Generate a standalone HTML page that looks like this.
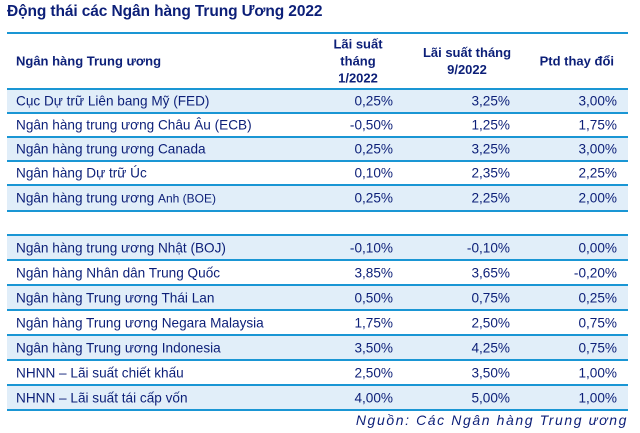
<!DOCTYPE html>
<html><head><meta charset="utf-8"><style>
body{margin:0;width:640px;height:433px;background:#fff;font-family:"Liberation Sans",sans-serif;color:#0c1f78;position:relative;overflow:hidden}
.t{position:absolute;left:7px;top:3px;font-size:15.5px;font-weight:bold;letter-spacing:-0.1px}
.r{position:absolute;left:7px;width:621px;box-sizing:border-box;border-bottom:2px solid #1a96d4;font-size:13.6px}
.r span{position:absolute;top:50%;transform:translateY(-50%)}
.c0{left:9px}.c1{right:235px}.c2{right:118px}.c3{right:11px}
.s{background:#e1eef9}
.h{font-weight:bold;font-size:13px;text-align:center;line-height:17px}
.src{position:absolute;right:12px;top:412px;font-style:italic;font-size:14px;letter-spacing:1.6px}
</style></head><body>
<div class="t">Động thái các Ngân hàng Trung Ương 2022</div>
<div class="r" style="top:32px;height:2px;border-bottom:2px solid #1a96d4"></div>
<div class="r h" style="top:34px;height:56px">
<span class="c0" style="text-align:left">Ngân hàng Trung ương</span>
<span style="right:230px;width:80px">Lãi suất<br>tháng<br>1/2022</span>
<span style="right:106px;width:110px">Lãi suất tháng<br>9/2022</span>
<span style="right:14px">Ptd thay đổi</span></div>
<div class="r s" style="top:90px;height:24px"><span class="c0">Cục Dự trữ Liên bang Mỹ (FED)</span><span class="c1">0,25%</span><span class="c2">3,25%</span><span class="c3">3,00%</span></div>
<div class="r" style="top:114px;height:24px"><span class="c0">Ngân hàng trung ương Châu Âu (ECB)</span><span class="c1">-0,50%</span><span class="c2">1,25%</span><span class="c3">1,75%</span></div>
<div class="r s" style="top:138px;height:24px"><span class="c0">Ngân hàng trung ương Canada</span><span class="c1">0,25%</span><span class="c2">3,25%</span><span class="c3">3,00%</span></div>
<div class="r" style="top:162px;height:24px"><span class="c0">Ngân hàng Dự trữ Úc</span><span class="c1">0,10%</span><span class="c2">2,35%</span><span class="c3">2,25%</span></div>
<div class="r s" style="top:186px;height:26px"><span class="c0">Ngân hàng trung ương <small style="font-size:12px">Anh (BOE)</small></span><span class="c1">0,25%</span><span class="c2">2,25%</span><span class="c3">2,00%</span></div>
<div class="r s" style="top:234px;height:27px;border-top:2px solid #1a96d4"><span class="c0">Ngân hàng trung ương Nhật (BOJ)</span><span class="c1">-0,10%</span><span class="c2">-0,10%</span><span class="c3">0,00%</span></div>
<div class="r" style="top:261px;height:25px"><span class="c0">Ngân hàng Nhân dân Trung Quốc</span><span class="c1">3,85%</span><span class="c2">3,65%</span><span class="c3">-0,20%</span></div>
<div class="r s" style="top:286px;height:25px"><span class="c0">Ngân hàng Trung ương Thái Lan</span><span class="c1">0,50%</span><span class="c2">0,75%</span><span class="c3">0,25%</span></div>
<div class="r" style="top:311px;height:25px"><span class="c0">Ngân hàng Trung ương Negara Malaysia</span><span class="c1">1,75%</span><span class="c2">2,50%</span><span class="c3">0,75%</span></div>
<div class="r s" style="top:336px;height:25px"><span class="c0">Ngân hàng Trung ương Indonesia</span><span class="c1">3,50%</span><span class="c2">4,25%</span><span class="c3">0,75%</span></div>
<div class="r" style="top:361px;height:25px"><span class="c0">NHNN – Lãi suất chiết khấu</span><span class="c1">2,50%</span><span class="c2">3,50%</span><span class="c3">1,00%</span></div>
<div class="r s" style="top:386px;height:25px"><span class="c0">NHNN – Lãi suất tái cấp vốn</span><span class="c1">4,00%</span><span class="c2">5,00%</span><span class="c3">1,00%</span></div>
<div class="src">Nguồn: Các Ngân hàng Trung ương</div>
</body></html>
